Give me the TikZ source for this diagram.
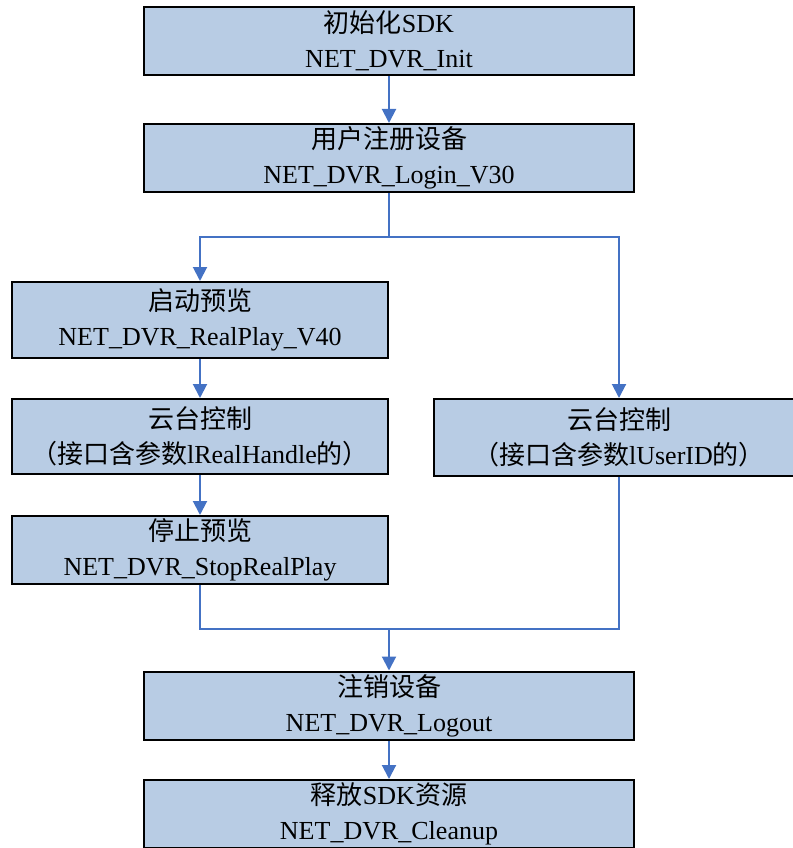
\documentclass[tikz,border=0pt]{standalone}
\usepackage{fontspec}
\setmainfont{Liberation Serif}
\newfontfamily\cjk{Noto Sans CJK SC}
\usepackage{tikz}
\usetikzlibrary{arrows.meta,positioning}
\definecolor{boxfill}{HTML}{B8CCE4}
\definecolor{flowblue}{HTML}{4472C4}
\tikzstyle{stepbox} = [rectangle, draw=black, line width=2pt, fill=boxfill, align=center, inner sep=0pt, font=\fontsize{26}{35}\selectfont]
\tikzstyle{wide}    = [stepbox, minimum width=490pt, minimum height=68pt]
\tikzstyle{narrow}  = [stepbox, minimum width=376pt]
\tikzstyle{line}    = [draw=flowblue, line width=2pt]
\tikzstyle{arrow}   = [line, -{Triangle[width=14pt,length=14pt]}]

\begin{document}
\begin{tikzpicture}[x=1pt,y=-1pt]
		\useasboundingbox (0,0) rectangle (792,848);

		% main column
		\node[wide] (init)    at (389,41)    {{\cjk 初始化}SDK\\NET\_DVR\_Init};
		\node[wide] (login)   at (389,158)   {{\cjk 用户注册设备}\\NET\_DVR\_Login\_V30};
		\node[wide] (logout)  at (389,705.5) {{\cjk 注销设备}\\NET\_DVR\_Logout};
		\node[wide] (cleanup) at (389,814)   {{\cjk 释放}SDK{\cjk 资源}\\NET\_DVR\_Cleanup};

		% left branch
		\node[narrow, minimum height=76pt] (play)    at (200,320)   {{\cjk 启动预览}\\NET\_DVR\_RealPlay\_V40};
		\node[narrow, minimum height=75pt] (ptzplay) at (200,436.5) {{\cjk 云台控制}\\{\cjk （接口含参数}lRealHandle{\cjk 的）}};
		\node[narrow, minimum height=68pt] (stop)    at (200,550)   {{\cjk 停止预览}\\NET\_DVR\_StopRealPlay};

		% right branch
		\node[stepbox, minimum width=370pt, minimum height=77pt] (ptzuser) at (619,437.5) {{\cjk 云台控制}\\{\cjk （接口含参数}lUserID{\cjk 的）}};

		\coordinate (split) at (389,237);
		\coordinate (merge) at (389,629);

		\draw[arrow] (init) -- (login);
		\draw[line] (login) -- (split);
		\draw[arrow] (split) -| (play.north);
		\draw[arrow] (split) -| (ptzuser.north);
		\draw[arrow] (play) -- (ptzplay);
		\draw[arrow] (ptzplay) -- (stop);
		\draw[line] (stop.south) |- (merge);
		\draw[line] (ptzuser.south) |- (merge);
		\draw[arrow] (merge) -- (logout);
		\draw[arrow] (logout) -- (cleanup);
	\end{tikzpicture}
\end{document}
